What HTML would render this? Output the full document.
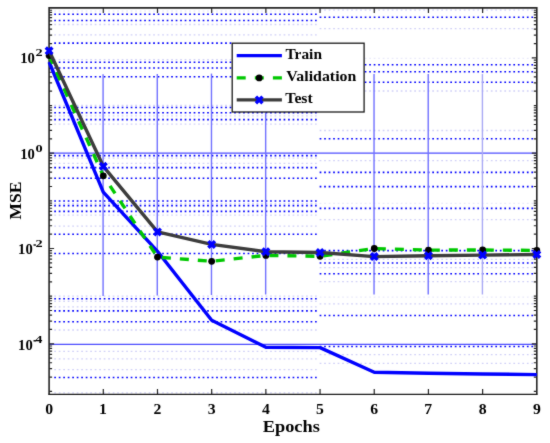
<!DOCTYPE html>
<html><head><meta charset="utf-8"><style>
html,body{margin:0;padding:0;background:#fff;}
svg{display:block}
.t{font-family:"Liberation Serif",serif;font-weight:bold;fill:#000;}
.tl{font-size:15px;}
.sup{font-size:11px;}
.lg{font-size:15px;}
.xl{font-size:17px;}
</style></head><body>
<svg width="550" height="443" viewBox="0 0 550 443">
<defs><filter id="soft" x="0" y="0" width="550" height="443" filterUnits="userSpaceOnUse" color-interpolation-filters="sRGB"><feConvolveMatrix order="3" kernelMatrix="0.02 0.07 0.02 0.07 0.64 0.07 0.02 0.07 0.02" edgeMode="duplicate"/></filter></defs>
<g filter="url(#soft)">
<rect width="550" height="443" fill="#fff"/>
<line x1="54.25" y1="11.00" x2="316.70" y2="11.00" stroke="#c0c0f0" stroke-opacity="0.35" stroke-width="1.3" stroke-dasharray="1.7 2.797"/>
<line x1="54.25" y1="14.30" x2="316.70" y2="14.30" stroke="#0000ff" stroke-width="1.6" stroke-dasharray="1.7 2.797"/>
<line x1="54.25" y1="20.50" x2="316.70" y2="20.50" stroke="#0000ff" stroke-width="1.6" stroke-dasharray="1.7 2.797"/>
<line x1="54.25" y1="24.50" x2="316.70" y2="24.50" stroke="#a8a8f0" stroke-opacity="0.55" stroke-width="1.3" stroke-dasharray="1.7 2.797"/>
<line x1="54.25" y1="34.80" x2="316.70" y2="34.80" stroke="#a8a8f0" stroke-opacity="0.55" stroke-width="1.3" stroke-dasharray="1.7 2.797"/>
<line x1="54.25" y1="43.10" x2="232.20" y2="43.10" stroke="#0000ff" stroke-width="1.6" stroke-dasharray="1.7 2.797"/>
<line x1="54.25" y1="59.70" x2="232.20" y2="59.70" stroke="#a8a8f0" stroke-opacity="0.55" stroke-width="1.3" stroke-dasharray="1.7 2.797"/>
<line x1="54.25" y1="62.20" x2="232.20" y2="62.20" stroke="#0000ff" stroke-width="1.6" stroke-dasharray="1.7 2.797"/>
<line x1="54.25" y1="68.00" x2="232.20" y2="68.00" stroke="#0000ff" stroke-width="1.6" stroke-dasharray="1.7 2.797"/>
<line x1="54.25" y1="76.70" x2="232.20" y2="76.70" stroke="#0000ff" stroke-width="1.6" stroke-dasharray="1.7 2.797"/>
<line x1="54.25" y1="105.50" x2="232.20" y2="105.50" stroke="#a8a8f0" stroke-opacity="0.55" stroke-width="1.3" stroke-dasharray="1.7 2.797"/>
<line x1="54.25" y1="107.50" x2="232.20" y2="107.50" stroke="#0000ff" stroke-width="1.6" stroke-dasharray="1.7 2.797"/>
<line x1="54.25" y1="112.80" x2="316.70" y2="112.80" stroke="#0000ff" stroke-width="1.6" stroke-dasharray="1.7 2.797"/>
<line x1="54.25" y1="115.90" x2="316.70" y2="115.90" stroke="#a8a8f0" stroke-opacity="0.55" stroke-width="1.3" stroke-dasharray="1.7 2.797"/>
<line x1="54.25" y1="119.60" x2="316.70" y2="119.60" stroke="#0000ff" stroke-width="1.6" stroke-dasharray="1.7 2.797"/>
<line x1="54.25" y1="124.20" x2="316.70" y2="124.20" stroke="#a8a8f0" stroke-opacity="0.55" stroke-width="1.3" stroke-dasharray="1.7 2.797"/>
<line x1="54.25" y1="155.60" x2="316.70" y2="155.60" stroke="#0000ff" stroke-width="1.6" stroke-dasharray="1.7 2.797"/>
<line x1="54.25" y1="158.10" x2="316.70" y2="158.10" stroke="#a8a8f0" stroke-opacity="0.55" stroke-width="1.3" stroke-dasharray="1.7 2.797"/>
<line x1="54.25" y1="163.40" x2="316.70" y2="163.40" stroke="#a8a8f0" stroke-opacity="0.55" stroke-width="1.3" stroke-dasharray="1.7 2.797"/>
<line x1="54.25" y1="167.60" x2="316.70" y2="167.60" stroke="#0000ff" stroke-width="1.6" stroke-dasharray="1.7 2.797"/>
<line x1="54.25" y1="178.30" x2="316.70" y2="178.30" stroke="#0000ff" stroke-width="1.6" stroke-dasharray="1.7 2.797"/>
<line x1="54.25" y1="201.00" x2="316.70" y2="201.00" stroke="#0000ff" stroke-width="1.6" stroke-dasharray="1.7 2.797"/>
<line x1="54.25" y1="203.70" x2="316.70" y2="203.70" stroke="#a8a8f0" stroke-opacity="0.55" stroke-width="1.3" stroke-dasharray="1.7 2.797"/>
<line x1="54.25" y1="205.60" x2="316.70" y2="205.60" stroke="#0000ff" stroke-width="1.6" stroke-dasharray="1.7 2.797"/>
<line x1="54.25" y1="211.40" x2="316.70" y2="211.40" stroke="#0000ff" stroke-width="1.6" stroke-dasharray="1.7 2.797"/>
<line x1="54.25" y1="215.20" x2="316.70" y2="215.20" stroke="#a8a8f0" stroke-opacity="0.55" stroke-width="1.3" stroke-dasharray="1.7 2.797"/>
<line x1="54.25" y1="226.10" x2="316.70" y2="226.10" stroke="#a8a8f0" stroke-opacity="0.55" stroke-width="1.3" stroke-dasharray="1.7 2.797"/>
<line x1="54.25" y1="234.20" x2="316.70" y2="234.20" stroke="#0000ff" stroke-width="1.6" stroke-dasharray="1.7 2.797"/>
<line x1="54.25" y1="253.50" x2="316.70" y2="253.50" stroke="#0000ff" stroke-width="1.6" stroke-dasharray="1.7 2.797"/>
<line x1="54.25" y1="296.20" x2="316.70" y2="296.20" stroke="#a8a8f0" stroke-opacity="0.55" stroke-width="1.3" stroke-dasharray="1.7 2.797"/>
<line x1="54.25" y1="298.70" x2="316.70" y2="298.70" stroke="#0000ff" stroke-width="1.6" stroke-dasharray="1.7 2.797"/>
<line x1="54.25" y1="301.40" x2="316.70" y2="301.40" stroke="#a8a8f0" stroke-opacity="0.55" stroke-width="1.3" stroke-dasharray="1.7 2.797"/>
<line x1="54.25" y1="306.80" x2="316.70" y2="306.80" stroke="#a8a8f0" stroke-opacity="0.55" stroke-width="1.3" stroke-dasharray="1.7 2.797"/>
<line x1="54.25" y1="310.90" x2="316.70" y2="310.90" stroke="#0000ff" stroke-width="1.6" stroke-dasharray="1.7 2.797"/>
<line x1="54.25" y1="321.70" x2="316.70" y2="321.70" stroke="#0000ff" stroke-width="1.6" stroke-dasharray="1.7 2.797"/>
<line x1="54.25" y1="330.00" x2="316.70" y2="330.00" stroke="#a8a8f0" stroke-opacity="0.55" stroke-width="1.3" stroke-dasharray="1.7 2.797"/>
<line x1="54.25" y1="351.40" x2="316.70" y2="351.40" stroke="#a8a8f0" stroke-opacity="0.55" stroke-width="1.3" stroke-dasharray="1.7 2.797"/>
<line x1="54.25" y1="358.90" x2="316.70" y2="358.90" stroke="#a8a8f0" stroke-opacity="0.55" stroke-width="1.3" stroke-dasharray="1.7 2.797"/>
<line x1="54.25" y1="369.60" x2="316.70" y2="369.60" stroke="#a8a8f0" stroke-opacity="0.55" stroke-width="1.3" stroke-dasharray="1.7 2.797"/>
<line x1="54.25" y1="377.50" x2="316.70" y2="377.50" stroke="#0000ff" stroke-width="1.6" stroke-dasharray="1.7 2.797"/>
<line x1="54.25" y1="392.80" x2="316.70" y2="392.80" stroke="#a8a8f0" stroke-opacity="0.55" stroke-width="1.3" stroke-dasharray="1.7 2.797"/>
<line x1="319.65" y1="10.20" x2="535.80" y2="10.20" stroke="#a8a8f0" stroke-opacity="0.55" stroke-width="1.3" stroke-dasharray="1.7 2.805"/>
<line x1="319.65" y1="17.20" x2="535.80" y2="17.20" stroke="#0000ff" stroke-width="1.6" stroke-dasharray="1.7 2.805"/>
<line x1="319.65" y1="28.60" x2="535.80" y2="28.60" stroke="#a8a8f0" stroke-opacity="0.55" stroke-width="1.3" stroke-dasharray="1.7 2.805"/>
<line x1="364.70" y1="58.40" x2="535.80" y2="58.40" stroke="#c0c0f0" stroke-opacity="0.35" stroke-width="1.3" stroke-dasharray="1.7 2.805"/>
<line x1="364.70" y1="64.70" x2="535.80" y2="64.70" stroke="#0000ff" stroke-width="1.6" stroke-dasharray="1.7 2.805"/>
<line x1="364.70" y1="71.80" x2="535.80" y2="71.80" stroke="#0000ff" stroke-width="1.6" stroke-dasharray="1.7 2.805"/>
<line x1="364.70" y1="82.30" x2="535.80" y2="82.30" stroke="#0000ff" stroke-width="1.6" stroke-dasharray="1.7 2.805"/>
<line x1="364.70" y1="91.00" x2="535.80" y2="91.00" stroke="#a8a8f0" stroke-opacity="0.55" stroke-width="1.3" stroke-dasharray="1.7 2.805"/>
<line x1="319.65" y1="130.50" x2="535.80" y2="130.50" stroke="#a8a8f0" stroke-opacity="0.55" stroke-width="1.3" stroke-dasharray="1.7 2.805"/>
<line x1="319.65" y1="138.80" x2="535.80" y2="138.80" stroke="#0000ff" stroke-width="1.6" stroke-dasharray="1.7 2.805"/>
<line x1="319.65" y1="160.60" x2="535.80" y2="160.60" stroke="#a8a8f0" stroke-opacity="0.55" stroke-width="1.3" stroke-dasharray="1.7 2.805"/>
<line x1="319.65" y1="172.40" x2="535.80" y2="172.40" stroke="#0000ff" stroke-width="1.6" stroke-dasharray="1.7 2.805"/>
<line x1="319.65" y1="186.60" x2="535.80" y2="186.60" stroke="#0000ff" stroke-width="1.6" stroke-dasharray="1.7 2.805"/>
<line x1="319.65" y1="203.40" x2="535.80" y2="203.40" stroke="#c0c0f0" stroke-opacity="0.35" stroke-width="1.3" stroke-dasharray="1.7 2.805"/>
<line x1="319.65" y1="208.40" x2="535.80" y2="208.40" stroke="#0000ff" stroke-width="1.6" stroke-dasharray="1.7 2.805"/>
<line x1="319.65" y1="219.60" x2="535.80" y2="219.60" stroke="#a8a8f0" stroke-opacity="0.55" stroke-width="1.3" stroke-dasharray="1.7 2.805"/>
<line x1="319.65" y1="250.60" x2="535.80" y2="250.60" stroke="#0000ff" stroke-width="1.6" stroke-dasharray="1.7 2.805"/>
<line x1="319.65" y1="259.30" x2="535.80" y2="259.30" stroke="#a8a8f0" stroke-opacity="0.55" stroke-width="1.3" stroke-dasharray="1.7 2.805"/>
<line x1="319.65" y1="263.00" x2="535.80" y2="263.00" stroke="#0000ff" stroke-width="1.6" stroke-dasharray="1.7 2.805"/>
<line x1="319.65" y1="267.60" x2="535.80" y2="267.60" stroke="#a8a8f0" stroke-opacity="0.55" stroke-width="1.3" stroke-dasharray="1.7 2.805"/>
<line x1="319.65" y1="273.80" x2="535.80" y2="273.80" stroke="#0000ff" stroke-width="1.6" stroke-dasharray="1.7 2.805"/>
<line x1="319.65" y1="281.60" x2="535.80" y2="281.60" stroke="#a8a8f0" stroke-opacity="0.55" stroke-width="1.3" stroke-dasharray="1.7 2.805"/>
<line x1="319.65" y1="297.20" x2="535.80" y2="297.20" stroke="#c0c0f0" stroke-opacity="0.35" stroke-width="1.3" stroke-dasharray="1.7 2.805"/>
<line x1="319.65" y1="303.90" x2="535.80" y2="303.90" stroke="#a8a8f0" stroke-opacity="0.55" stroke-width="1.3" stroke-dasharray="1.7 2.805"/>
<line x1="319.65" y1="315.50" x2="535.80" y2="315.50" stroke="#0000ff" stroke-width="1.6" stroke-dasharray="1.7 2.805"/>
<line x1="319.65" y1="346.50" x2="535.80" y2="346.50" stroke="#0000ff" stroke-width="1.6" stroke-dasharray="1.7 2.805"/>
<line x1="319.65" y1="354.70" x2="535.80" y2="354.70" stroke="#a8a8f0" stroke-opacity="0.55" stroke-width="1.3" stroke-dasharray="1.7 2.805"/>
<line x1="319.65" y1="363.40" x2="535.80" y2="363.40" stroke="#a8a8f0" stroke-opacity="0.55" stroke-width="1.3" stroke-dasharray="1.7 2.805"/>
<line x1="49.10" y1="153.20" x2="536.80" y2="153.20" stroke="#4d4dff" stroke-width="1.3"/>
<line x1="49.10" y1="344.30" x2="536.80" y2="344.30" stroke="#4d4dff" stroke-width="1.3"/>
<line x1="103.09" y1="74.20" x2="103.09" y2="296.00" stroke="#7070ff" stroke-width="1.4"/>
<line x1="157.28" y1="74.00" x2="157.28" y2="295.50" stroke="#7070ff" stroke-width="1.4"/>
<line x1="211.47" y1="73.60" x2="211.47" y2="295.00" stroke="#7070ff" stroke-width="1.4"/>
<line x1="265.66" y1="112.50" x2="265.66" y2="294.50" stroke="#7070ff" stroke-width="1.4"/>
<line x1="374.04" y1="74.00" x2="374.04" y2="294.50" stroke="#7070ff" stroke-width="1.4"/>
<line x1="428.23" y1="74.00" x2="428.23" y2="294.50" stroke="#7070ff" stroke-width="1.4"/>
<line x1="482.42" y1="74.00" x2="482.42" y2="294.50" stroke="#a8a8f4" stroke-width="1.4"/>
<path d="M103.29 394.0v-5M103.29 7.9v5M157.48 394.0v-5M157.48 7.9v5M211.67 394.0v-5M211.67 7.9v5M265.86 394.0v-5M265.86 7.9v5M320.05 394.0v-5M320.05 7.9v5M374.24 394.0v-5M374.24 7.9v5M428.43 394.0v-5M428.43 7.9v5M482.62 394.0v-5M482.62 7.9v5M49.10 391.45h3M536.80 391.45h-3M49.10 377.11h3M536.80 377.11h-3M49.10 368.72h3M536.80 368.72h-3M49.10 362.76h3M536.80 362.76h-3M49.10 358.14h3M536.80 358.14h-3M49.10 354.37h3M536.80 354.37h-3M49.10 351.18h3M536.80 351.18h-3M49.10 348.42h3M536.80 348.42h-3M49.10 345.98h3M536.80 345.98h-3M49.10 343.80h5M536.80 343.80h-5M49.10 329.46h3M536.80 329.46h-3M49.10 321.07h3M536.80 321.07h-3M49.10 315.11h3M536.80 315.11h-3M49.10 310.49h3M536.80 310.49h-3M49.10 306.72h3M536.80 306.72h-3M49.10 303.53h3M536.80 303.53h-3M49.10 300.77h3M536.80 300.77h-3M49.10 298.33h3M536.80 298.33h-3M49.10 296.15h3M536.80 296.15h-3M49.10 281.81h3M536.80 281.81h-3M49.10 273.42h3M536.80 273.42h-3M49.10 267.46h3M536.80 267.46h-3M49.10 262.84h3M536.80 262.84h-3M49.10 259.07h3M536.80 259.07h-3M49.10 255.88h3M536.80 255.88h-3M49.10 253.12h3M536.80 253.12h-3M49.10 250.68h3M536.80 250.68h-3M49.10 248.50h5M536.80 248.50h-5M49.10 234.16h3M536.80 234.16h-3M49.10 225.77h3M536.80 225.77h-3M49.10 219.81h3M536.80 219.81h-3M49.10 215.19h3M536.80 215.19h-3M49.10 211.42h3M536.80 211.42h-3M49.10 208.23h3M536.80 208.23h-3M49.10 205.47h3M536.80 205.47h-3M49.10 203.03h3M536.80 203.03h-3M49.10 200.85h3M536.80 200.85h-3M49.10 186.51h3M536.80 186.51h-3M49.10 178.12h3M536.80 178.12h-3M49.10 172.16h3M536.80 172.16h-3M49.10 167.54h3M536.80 167.54h-3M49.10 163.77h3M536.80 163.77h-3M49.10 160.58h3M536.80 160.58h-3M49.10 157.82h3M536.80 157.82h-3M49.10 155.38h3M536.80 155.38h-3M49.10 153.20h5M536.80 153.20h-5M49.10 138.86h3M536.80 138.86h-3M49.10 130.47h3M536.80 130.47h-3M49.10 124.51h3M536.80 124.51h-3M49.10 119.89h3M536.80 119.89h-3M49.10 116.12h3M536.80 116.12h-3M49.10 112.93h3M536.80 112.93h-3M49.10 110.17h3M536.80 110.17h-3M49.10 107.73h3M536.80 107.73h-3M49.10 105.55h3M536.80 105.55h-3M49.10 91.21h3M536.80 91.21h-3M49.10 82.82h3M536.80 82.82h-3M49.10 76.86h3M536.80 76.86h-3M49.10 72.24h3M536.80 72.24h-3M49.10 68.47h3M536.80 68.47h-3M49.10 65.28h3M536.80 65.28h-3M49.10 62.52h3M536.80 62.52h-3M49.10 60.08h3M536.80 60.08h-3M49.10 57.90h5M536.80 57.90h-5M49.10 43.56h3M536.80 43.56h-3M49.10 35.17h3M536.80 35.17h-3M49.10 29.21h3M536.80 29.21h-3M49.10 24.59h3M536.80 24.59h-3M49.10 20.82h3M536.80 20.82h-3M49.10 17.63h3M536.80 17.63h-3M49.10 14.87h3M536.80 14.87h-3M49.10 12.43h3M536.80 12.43h-3M49.10 10.25h3M536.80 10.25h-3" stroke="#262626" stroke-width="1.2" fill="none"/>
<path d="M49.10 394.4V7.90H536.80V394.4" fill="none" stroke="#262626" stroke-width="1.6"/><line x1="48.30" y1="394.4" x2="537.60" y2="394.4" stroke="#1a1a1a" stroke-width="1.2"/>
<polyline points="49.10,62.00 103.29,192.20 157.48,251.30 211.67,320.30 265.86,347.20 320.05,347.60 374.24,372.20 428.43,373.30 482.62,374.00 536.81,374.60" fill="none" stroke="#0000ff" stroke-width="3.4" stroke-linejoin="round"/>
<polyline points="49.10,55.60 103.29,175.80 157.48,257.10 211.67,261.30 265.86,255.40 320.05,256.30 374.24,248.50 428.43,250.10 482.62,250.00 536.81,250.40" fill="none" stroke="#00c800" stroke-width="3.4" stroke-dasharray="9 9" stroke-linejoin="round"/>
<circle cx="49.10" cy="55.60" r="3.4" fill="#000"/>
<circle cx="103.29" cy="175.80" r="3.4" fill="#000"/>
<circle cx="157.48" cy="257.10" r="3.4" fill="#000"/>
<circle cx="211.67" cy="261.30" r="3.4" fill="#000"/>
<circle cx="265.86" cy="255.40" r="3.4" fill="#000"/>
<circle cx="320.05" cy="256.30" r="3.4" fill="#000"/>
<circle cx="374.24" cy="248.50" r="3.4" fill="#000"/>
<circle cx="428.43" cy="250.10" r="3.4" fill="#000"/>
<circle cx="482.62" cy="250.00" r="3.4" fill="#000"/>
<circle cx="536.81" cy="250.40" r="3.4" fill="#000"/>
<polyline points="49.10,50.80 103.29,166.30 157.48,231.90 211.67,244.40 265.86,251.70 320.05,252.50 374.24,256.60 428.43,255.70 482.62,255.10 536.81,254.50" fill="none" stroke="#3c3c3c" stroke-width="3.4" stroke-linejoin="round"/>
<path d="M45.80 47.50L52.40 54.10M45.80 54.10L52.40 47.50" stroke="#0000ff" stroke-width="3.4" stroke-linecap="butt"/>
<path d="M99.99 163.00L106.59 169.60M99.99 169.60L106.59 163.00" stroke="#0000ff" stroke-width="3.4" stroke-linecap="butt"/>
<path d="M154.18 228.60L160.78 235.20M154.18 235.20L160.78 228.60" stroke="#0000ff" stroke-width="3.4" stroke-linecap="butt"/>
<path d="M208.37 241.10L214.97 247.70M208.37 247.70L214.97 241.10" stroke="#0000ff" stroke-width="3.4" stroke-linecap="butt"/>
<path d="M262.56 248.40L269.16 255.00M262.56 255.00L269.16 248.40" stroke="#0000ff" stroke-width="3.4" stroke-linecap="butt"/>
<path d="M316.75 249.20L323.35 255.80M316.75 255.80L323.35 249.20" stroke="#0000ff" stroke-width="3.4" stroke-linecap="butt"/>
<path d="M370.94 253.30L377.54 259.90M370.94 259.90L377.54 253.30" stroke="#0000ff" stroke-width="3.4" stroke-linecap="butt"/>
<path d="M425.13 252.40L431.73 259.00M425.13 259.00L431.73 252.40" stroke="#0000ff" stroke-width="3.4" stroke-linecap="butt"/>
<path d="M479.32 251.80L485.92 258.40M479.32 258.40L485.92 251.80" stroke="#0000ff" stroke-width="3.4" stroke-linecap="butt"/>
<path d="M533.51 251.20L540.11 257.80M533.51 257.80L540.11 251.20" stroke="#0000ff" stroke-width="3.4" stroke-linecap="butt"/>
<rect x="232.20" y="43.20" width="131.90" height="68.80" fill="#fff" stroke="#1a1a1a" stroke-width="1.3"/>
<line x1="236.7" y1="55.6" x2="281.9" y2="55.6" stroke="#0000ff" stroke-width="3.4"/>
<line x1="236.7" y1="77.9" x2="281.9" y2="77.9" stroke="#00c800" stroke-width="3.4" stroke-dasharray="9 9.1"/>
<circle cx="259.2" cy="77.9" r="3.4" fill="#000"/>
<line x1="236.7" y1="99.9" x2="281.9" y2="99.9" stroke="#3c3c3c" stroke-width="3.4"/>
<path d="M255.90 96.60L262.50 103.20M255.90 103.20L262.50 96.60" stroke="#0000ff" stroke-width="3.4" stroke-linecap="butt"/>
<text transform="translate(285.469,58.700) scale(1.0260,1)" class="t" style="font-size:15px">Train</text>
<text transform="translate(286.341,80.600) scale(1.0580,1)" class="t" style="font-size:15px">Validation</text>
<text transform="translate(285.364,102.600) scale(1.0470,1)" class="t" style="font-size:15px">Test</text>
<text transform="translate(45.163,413.700) scale(1.0500,1)" class="t" style="font-size:15px">0</text>
<text transform="translate(99.116,413.700) scale(1.0500,1)" class="t" style="font-size:15px">1</text>
<text transform="translate(153.582,413.700) scale(1.0500,1)" class="t" style="font-size:15px">2</text>
<text transform="translate(207.693,413.700) scale(1.0500,1)" class="t" style="font-size:15px">3</text>
<text transform="translate(261.962,413.700) scale(1.0500,1)" class="t" style="font-size:15px">4</text>
<text transform="translate(316.073,413.700) scale(1.0500,1)" class="t" style="font-size:15px">5</text>
<text transform="translate(370.263,413.700) scale(1.0500,1)" class="t" style="font-size:15px">6</text>
<text transform="translate(424.256,413.700) scale(1.0500,1)" class="t" style="font-size:15px">7</text>
<text transform="translate(478.683,413.700) scale(1.0500,1)" class="t" style="font-size:15px">8</text>
<text transform="translate(532.912,413.700) scale(1.0500,1)" class="t" style="font-size:15px">9</text>
<text transform="translate(20.184,63.400) scale(1.0000,1)" class="t" style="font-size:14.6px">10</text>
<text transform="translate(35.593,56.300) scale(1.3000,1)" class="t" style="font-size:11px">2</text>
<text transform="translate(20.184,158.800) scale(1.0000,1)" class="t" style="font-size:14.6px">10</text>
<text transform="translate(35.522,151.700) scale(1.3000,1)" class="t" style="font-size:11px">0</text>
<text transform="translate(18.084,254.100) scale(1.0000,1)" class="t" style="font-size:14.6px">10</text>
<text transform="translate(35.593,247.000) scale(1.3000,1)" class="t" style="font-size:11px">2</text>
<rect x="33.5" y="244.30" width="2.4" height="1.4" fill="#000"/>
<text transform="translate(18.084,349.900) scale(1.0000,1)" class="t" style="font-size:14.6px">10</text>
<text transform="translate(35.236,342.800) scale(1.3000,1)" class="t" style="font-size:11px">4</text>
<rect x="33.5" y="340.10" width="2.4" height="1.4" fill="#000"/>
<text transform="translate(262.725,432.100) scale(1.0800,1)" class="t" style="font-size:17px">Epochs</text>
<text transform="translate(20.60,200.90) rotate(-90) translate(-18.667,0) scale(1.0250,1)" class="t" style="font-size:17.1px">MSE</text>
</g>
</svg>
</body></html>
